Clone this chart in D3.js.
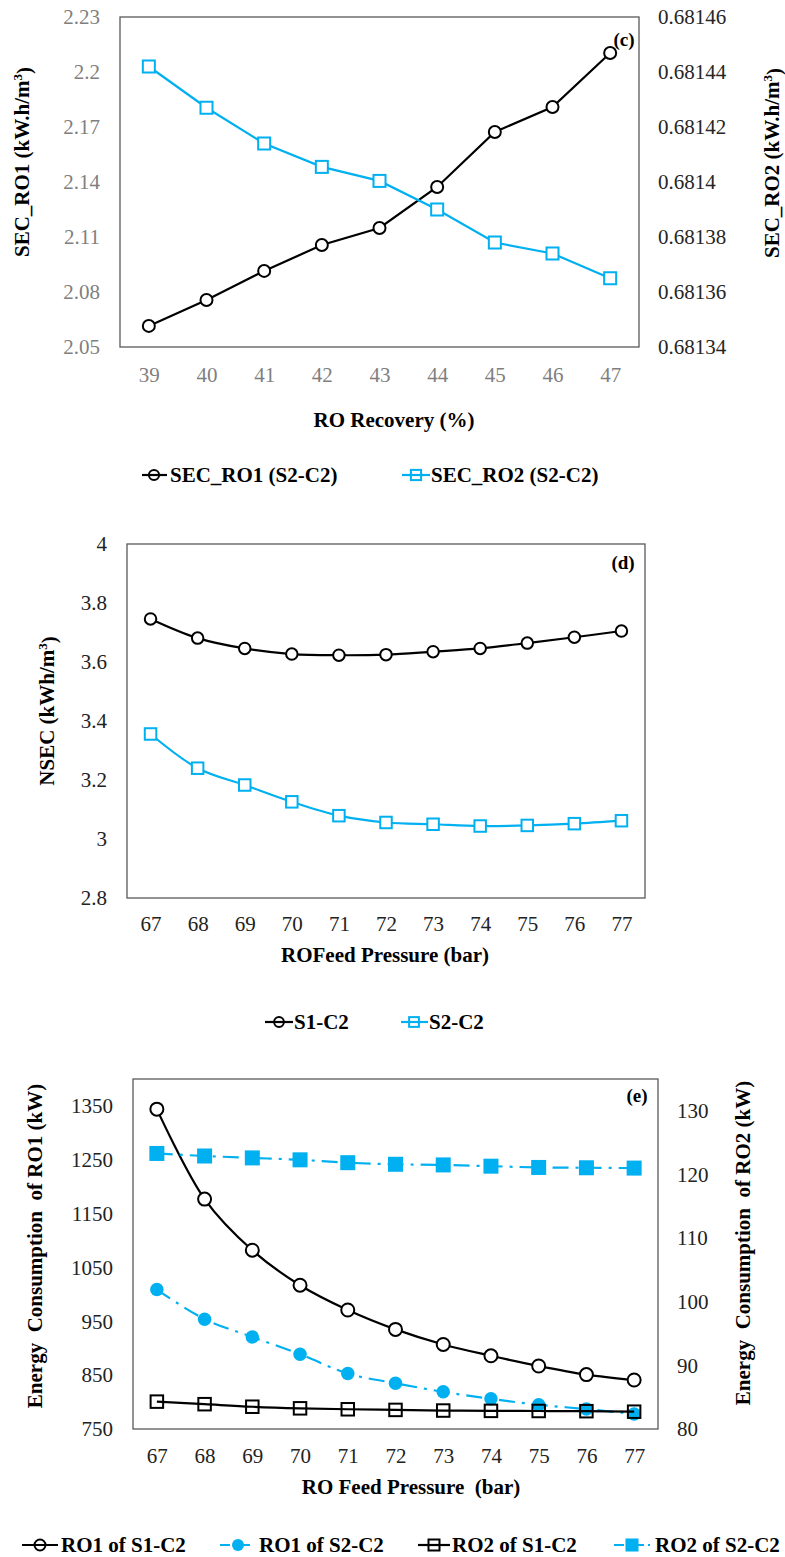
<!DOCTYPE html>
<html>
<head>
<meta charset="utf-8">
<script src="https://cdn.jsdelivr.net/npm/d3@7"></script>
<style>
  body { margin: 0; background: #fff; }
  svg { display: block; }
</style>
</head>
<body>
<svg id="fig" width="785" height="1557"></svg>
<script>
// ---- (c) specific energy vs RO recovery ----
const recoveryPct = ["39", "40", "41", "42", "43", "44", "45", "46", "47"];
const secRO1 = [2.0615, 2.0756, 2.0915, 2.1056, 2.1149, 2.1373, 2.1673, 2.1809, 2.2104];
const secRO2 = [0.681442, 0.681427, 0.681414, 0.6814055, 0.6814004, 0.68139, 0.681378, 0.681374, 0.681365];
const secRO1Ticks = [2.05, 2.08, 2.11, 2.14, 2.17, 2.2, 2.23];
const secRO2Ticks = [0.68134, 0.68136, 0.68138, 0.6814, 0.68142, 0.68144, 0.68146];

// ---- (d) NSEC vs feed pressure ----
const feedPressure = ["67", "68", "69", "70", "71", "72", "73", "74", "75", "76", "77"];
const nsecS1C2 = [3.746, 3.681, 3.646, 3.627, 3.623, 3.625, 3.635, 3.646, 3.664, 3.684, 3.705];
const nsecS2C2 = [3.356, 3.240, 3.183, 3.126, 3.079, 3.056, 3.050, 3.044, 3.046, 3.052, 3.062];
const nsecTicks = [2.8, 3, 3.2, 3.4, 3.6, 3.8, 4];

// ---- (e) energy consumption vs feed pressure ----
const ro1S1C2 = [1344, 1177, 1082, 1017, 971, 935, 907, 886, 867, 851, 841];
const ro1S2C2 = [1009, 954, 921, 889, 853, 835, 819, 806, 795, 787, 778];
const ro2S1C2 = [84.3, 83.9, 83.5, 83.25, 83.1, 83.0, 82.9, 82.85, 82.83, 82.8, 82.72];
const ro2S2C2 = [123.3, 122.9, 122.6, 122.3, 121.85, 121.6, 121.5, 121.3, 121.1, 121.05, 121.0];
const ro1Domain = [750, 1400];
const ro2Domain = [80, 135];
const ro1Ticks = [750, 850, 950, 1050, 1150, 1250, 1350];
const ro2Ticks = [80, 90, 100, 110, 120, 130];

const BLUE = "#00B0F0";
const SERIF = "Liberation Serif, Tinos, Noto Serif, FreeSerif, Nimbus Roman, Times New Roman, Times, DejaVu Serif, serif";
const svg = d3.select("#fig");
svg.append("rect").attr("width", 785).attr("height", 1557).attr("fill", "#fff");

const fmt = v => String(+v.toFixed(6));

function drawMarker(g, shape, x, y, size, stroke, fill) {
  if (shape === "circle") {
    g.append("circle").attr("cx", x).attr("cy", y).attr("r", size / 2)
      .attr("fill", fill).attr("stroke", stroke).attr("stroke-width", fill === stroke ? 0 : 2);
  } else {
    g.append("rect").attr("x", x - size / 2).attr("y", y - size / 2)
      .attr("width", size).attr("height", size)
      .attr("fill", fill).attr("stroke", stroke).attr("stroke-width", fill === stroke ? 0 : 2);
  }
}

function label(g, x, y, str, size, bold) {
  return g.append("text").attr("x", x).attr("y", y).attr("dy", "0.35em")
    .style("font-family", SERIF).attr("font-size", size)
    .attr("font-weight", bold ? "bold" : null).text(str);
}

function panel(cfg) {
  const g = svg.append("g");
  const x = d3.scalePoint().domain(cfg.cats).range([cfg.left, cfg.right]).padding(0.5);
  const yL = d3.scaleLinear().domain(cfg.leftDomain).range([cfg.bottom, cfg.top]);
  const yR = cfg.rightDomain ? d3.scaleLinear().domain(cfg.rightDomain).range([cfg.bottom, cfg.top]) : null;

  // frame
  g.append("rect").attr("x", cfg.left).attr("y", cfg.top)
    .attr("width", cfg.right - cfg.left).attr("height", cfg.bottom - cfg.top)
    .attr("fill", "none").attr("stroke", "#595959").attr("stroke-width", 1.3);

  // axes
  const styleAxis = (sel, color) => {
    sel.attr("font-family", null).attr("font-size", 21);
    sel.select(".domain").remove();
    sel.selectAll("line").remove();
    sel.selectAll("text").attr("fill", color).style("font-family", SERIF);
  };
  g.append("g").attr("transform", `translate(0,${cfg.bottom})`)
    .call(d3.axisBottom(x).tickSize(0).tickPadding(cfg.xPad))
    .call(s => styleAxis(s, cfg.xTickColor));
  g.append("g").attr("transform", `translate(${cfg.left},0)`)
    .call(d3.axisLeft(yL).tickValues(cfg.leftTicks).tickFormat(fmt).tickSize(0).tickPadding(20))
    .call(s => styleAxis(s, cfg.leftTickColor));
  if (yR) {
    g.append("g").attr("transform", `translate(${cfg.right},0)`)
      .call(d3.axisRight(yR).tickValues(cfg.rightTicks).tickFormat(fmt).tickSize(0).tickPadding(19))
      .call(s => styleAxis(s, cfg.rightTickColor));
  }

  // series
  cfg.series.forEach(s => {
    const ys = s.axis === "right" ? yR : yL;
    const pts = cfg.cats.map((c, i) => [x(c), ys(s.values[i])]);
    g.append("path").datum(pts)
      .attr("d", d3.line().curve(s.smooth ? d3.curveCatmullRom.alpha(0.5) : d3.curveLinear))
      .attr("fill", "none").attr("stroke", s.color).attr("stroke-width", 2.2)
      .attr("stroke-dasharray", s.dash || null);
    const mg = g.append("g");
    pts.forEach(p => drawMarker(mg, s.shape, p[0], p[1], s.size, s.color, s.fill));
  });

  // panel tag
  label(g, cfg.tag.x, cfg.tag.y, cfg.tag.text, 19, true).attr("text-anchor", "middle");

  // axis titles
  label(g, cfg.xTitle.x, cfg.xTitle.y, cfg.xTitle.text, 21, true)
    .attr("text-anchor", "middle").style("white-space", "pre");
  cfg.yTitles.forEach(t => {
    const tx = g.append("text").attr("transform", `translate(${t.x},${t.y}) rotate(-90)`)
      .attr("dy", "0.35em").attr("text-anchor", "middle").style("font-family", SERIF)
      .attr("font-size", 21).attr("font-weight", "bold").style("white-space", "pre");
    tx.append("tspan").text(t.text);
    if (t.sup) {
      tx.append("tspan").attr("font-size", 13).attr("dy", "-0.6em").text(t.sup);
      tx.append("tspan").attr("dy", "0.45em").text(t.tail);
    }
  });

  // legend: open markers are drawn hollow so the key line shows through them
  cfg.legend.forEach(l => {
    const s = cfg.series[l.idx];
    g.append("line").attr("x1", l.x0).attr("x2", l.x1).attr("y1", cfg.legendY).attr("y2", cfg.legendY)
      .attr("stroke", s.color).attr("stroke-width", 2.2).attr("stroke-dasharray", l.dash || null);
    const legendFill = s.fill === s.color ? s.fill : "none";
    drawMarker(g, s.shape, l.mx, cfg.legendY, l.size || s.size * 0.85, s.color, legendFill);
    label(g, l.tx, cfg.legendY, l.text, 21, true);
  });
}

// (c)
panel({
  cats: recoveryPct, left: 120, right: 639, top: 17, bottom: 347,
  leftDomain: [2.05, 2.23], leftTicks: secRO1Ticks,
  rightDomain: [0.68134, 0.68146], rightTicks: secRO2Ticks,
  xPad: 20, xTickColor: "#7f7f7f", leftTickColor: "#7f7f7f", rightTickColor: "#262626",
  series: [
    { values: secRO1, axis: "left", color: "#000", shape: "circle", size: 12, fill: "#fff" },
    { values: secRO2, axis: "right", color: BLUE, shape: "square", size: 12, fill: "#fff" }
  ],
  tag: { x: 624, y: 39, text: "(c)" },
  xTitle: { x: 394, y: 420, text: "RO Recovery (%)" },
  yTitles: [
    { x: 22, y: 162, text: "SEC_RO1 (kW.h/m", sup: "3", tail: ")" },
    { x: 772, y: 163, text: "SEC_RO2 (kW.h/m", sup: "3", tail: ")" }
  ],
  legendY: 475,
  legend: [
    { idx: 0, x0: 142, x1: 167, mx: 154, tx: 170, text: "SEC_RO1 (S2-C2)" },
    { idx: 1, x0: 402, x1: 430, mx: 416, tx: 431, text: "SEC_RO2 (S2-C2)" }
  ]
});

// (d)
panel({
  cats: feedPressure, left: 127, right: 645, top: 544, bottom: 898,
  leftDomain: [2.8, 4], leftTicks: nsecTicks,
  xPad: 18, xTickColor: "#222", leftTickColor: "#222",
  series: [
    { values: nsecS1C2, axis: "left", color: "#000", shape: "circle", size: 11.5, fill: "#fff", smooth: true },
    { values: nsecS2C2, axis: "left", color: BLUE, shape: "square", size: 11.5, fill: "#fff", smooth: true }
  ],
  tag: { x: 623, y: 562, text: "(d)" },
  xTitle: { x: 385, y: 955, text: "ROFeed Pressure (bar)" },
  yTitles: [
    { x: 47, y: 711, text: "NSEC (kWh/m", sup: "3", tail: ")" }
  ],
  legendY: 1022,
  legend: [
    { idx: 0, x0: 265, x1: 293, mx: 279, tx: 294, text: "S1-C2" },
    { idx: 1, x0: 401, x1: 428, mx: 414, tx: 429, text: "S2-C2" }
  ]
});

// (e)
panel({
  cats: feedPressure, left: 133, right: 658, top: 1079, bottom: 1429,
  leftDomain: ro1Domain, leftTicks: ro1Ticks,
  rightDomain: ro2Domain, rightTicks: ro2Ticks,
  xPad: 19, xTickColor: "#222", leftTickColor: "#222", rightTickColor: "#222",
  series: [
    { values: ro1S1C2, axis: "left", color: "#000", shape: "circle", size: 13, fill: "#fff", smooth: true },
    { values: ro1S2C2, axis: "left", color: BLUE, shape: "circle", size: 13.5, fill: BLUE, smooth: true, dash: "16,7,3,7" },
    { values: ro2S1C2, axis: "right", color: "#000", shape: "square", size: 12.5, fill: "none", smooth: true },
    { values: ro2S2C2, axis: "right", color: BLUE, shape: "square", size: 15, fill: BLUE, smooth: true, dash: "16,7,3,7" }
  ],
  tag: { x: 637, y: 1095, text: "(e)" },
  xTitle: { x: 411, y: 1487, text: "RO Feed Pressure  (bar)" },
  yTitles: [
    { x: 35, y: 1246, text: "Energy  Consumption  of RO1 (kW)" },
    { x: 743, y: 1243, text: "Energy  Consumption  of RO2 (kW)" }
  ],
  legendY: 1545,
  legend: [
    { idx: 0, x0: 22, x1: 58, mx: 40, tx: 61, text: "RO1 of S1-C2", size: 11 },
    { idx: 1, x0: 220, x1: 252, mx: 238, tx: 259, text: "RO1 of S2-C2", size: 12, dash: "10,4,2,4" },
    { idx: 2, x0: 418, x1: 450, mx: 434, tx: 452, text: "RO2 of S1-C2", size: 11 },
    { idx: 3, x0: 614, x1: 651, mx: 632, tx: 655, text: "RO2 of S2-C2", size: 13, dash: "10,4,2,4" }
  ]
});
</script>
</body>
</html>
